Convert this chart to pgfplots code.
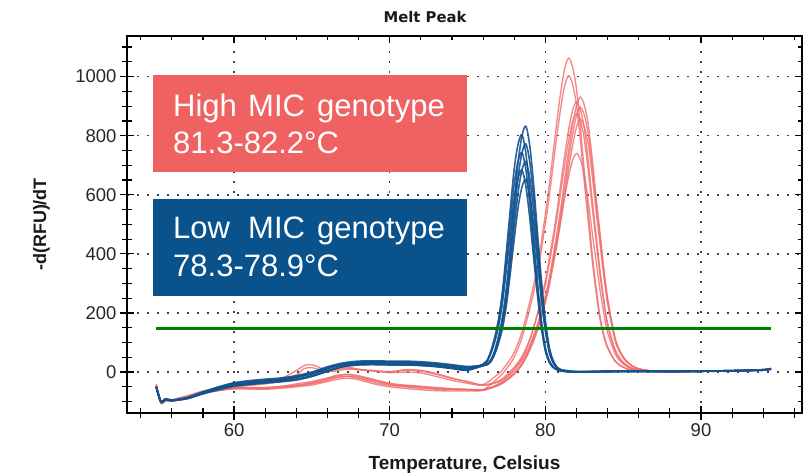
\documentclass[border=0pt]{standalone}
\usepackage{fontspec}
\setmainfont{Liberation Sans}
\newfontfamily\dejavu{DejaVu Sans}
\usepackage{pgfplots}
\usepackage{pgfplotstable}
\pgfplotsset{compat=1.18}

\definecolor{redbox}{RGB}{240,98,98}
\definecolor{bluebox}{RGB}{10,82,140}
\definecolor{redline}{RGB}{240,108,108}
\definecolor{blueline}{RGB}{18,82,142}
\definecolor{thresh}{RGB}{0,128,0}

% low MIC genotype curves
\pgfplotstableread{
x     b1   b2   b3   b4   b5   b6   b7
55    -48  -52  -50  -53  -50  -49  -51
55.3  -98  -101 -99  -102 -100 -99  -101
55.6  -90  -93  -91  -94  -92  -91  -93
56    -95  -97  -95  -97  -96  -95  -96
57    -87  -89  -86  -90  -88  -87  -89
58    -68  -72  -67  -74  -70  -69  -71
59    -52  -58  -50  -60  -55  -53  -57
60    -38  -45  -36  -48  -42  -39  -46
61    -32  -39  -29  -42  -36  -33  -40
62    -27  -34  -24  -37  -31  -28  -35
63    -23  -30  -20  -33  -26  -25  -31
64    -16  -24  -12  -27  -18  -17  -25
65    -4   -12  0    -15  -6   -5   -13
66    14   5    18   2    11   13   4
67    28   20   31   18   24   27   19
68    34   27   37   24   30   33   25
69    35   28   38   25   31   34   26
70    34   27   37   24   30   33   25
71    34   27   37   24   30   33   25
72    32   25   35   22   28   31   23
73    28   21   31   18   24   27   19
74    22   15   25   12   18   21   13
75    16   9    19   6    12   15   7
76    23   27   23   26   22   25   21
76.25 27   39   26   37   25   35   25
76.5  41   71   39   67   37   63   35
76.75 73   119  69   111  65   103  61
77    123  182  115  169  107  157  99
77.25 188  277  176  257  163  237  150
77.5  287  411  267  381  247  351  227
77.75 426  553  396  512  366  472  336
78    574  688  533  637  492  586  451
78.25 711  772  660  715  609  657  558
78.5  800  803  743  743  685  683  627
78.75 832  739  772  684  712  628  652
79    765  611  710  566  655  520  600
79.25 633  452  588  419  542  385  496
79.5  467  300  434  278  400  256  366
79.75 309  172  287  159  265  147  243
80    176  83   164  77   151  71   138
80.25 85   39   79   36   73   33   67
80.5  39   18   36   17   34   15   31
80.75 17   9    16   8    15   8    14
81    8    4    8    4    7    3    6
82    1    0    2    0    1    1    0
84    3    2    3    1    2    3    2
86    3    3    4    2    3    3    2
88    2    3    2    2    3    2    2
90    3    3    3    2    3    3    3
92    5    4    5    4    5    4    5
94    8    7    8    7    8    7    8
94.5  12   10   12   10   12   11   12
}\bluetab

% high MIC genotype curves
\pgfplotstableread{
x     r1   r2   r3   r4   r5   r6   r7   r8
55    -45  -50  -40  -48  -52  -42  -47  -50
55.3  -100 -105 -98  -103 -106 -102 -104 -103
55.6  -90  -95  -92  -96  -97  -94  -94  -95
56    -95  -98  -93  -97  -99  -96  -96  -97
57    -82  -85  -80  -86  -84  -84  -83  -85
58    -65  -70  -64  -72  -68  -66  -69  -70
59    -55  -62  -56  -63  -60  -57  -61  -62
60    -48  -55  -50  -57  -53  -50  -56  -54
61    -42  -55  -44  -56  -52  -45  -57  -53
62    -35  -55  -38  -56  -52  -40  -58  -54
63    -22  -50  -28  -52  -48  -32  -55  -50
64    5    -45  -10  -47  -40  -20  -50  -44
64.5  22   -42  12   -43  -36  -8   -47  -40
65    25   -38  15   -40  -32  0    -44  -35
65.5  15   -32  8    -34  -26  2    -38  -28
66    5    -25  3    -28  -20  3    -32  -22
66.5  3    -18  10   -20  -12  8    -26  -15
67    8    -15  16   -16  -8   12   -22  -10
67.5  10   -15  15   -16  -8   12   -22  -10
68    8    -20  10   -20  -12  8    -26  -15
69    5    -35  4    -30  -25  3    -40  -28
70    2    -45  -2   -40  -38  0    -50  -42
71    6    -50  0    -46  -44  8    -55  -48
72    3    -55  -3   -50  -48  6    -60  -52
73    -8   -58  -15  -55  -52  -5   -63  -56
74    -22  -60  -28  -58  -56  -20  -64  -58
75    -32  -60  -38  -60  -58  -33  -64  -59
76    -42  -60  -45  -61  -59  -44  -62  -60
77    -5   -18  -34  -40  -44  -30  -45  -43
77.5  25   11   -17  -18  -28  -10  -29  -25
78    67   51   7    10   -5   17   -7   -2
78.5  136  117  40   47   27   53   24   30
79    238  215  92   109  79   111  74   81
79.5  360  334  162  200  150  195  142  156
80    534  503  259  309  248  295  236  246
80.25 633  596  317  385  304  367  290  308
80.5  743  700  394  461  379  441  361  370
80.75 853  804  472  547  454  523  433  440
81    952  898  559  642  538  614  514  518
81.25 1029 971  655  736  630  704  602  594
81.5  1063 1003 750  821  722  785  690  664
81.75 1032 974  836  886  804  848  768  717
82    958  904  902  915  868  875  829  740
82.25 831  784  931  888  896  850  856  719
82.5  682  643  904  825  870  789  831  668
82.75 544  513  840  716  808  684  772  579
83    406  383  728  588  701  562  670  476
83.25 289  273  598  469  576  449  550  380
83.5  193  182  477  350  459  334  439  283
83.75 128  121  355  248  342  238  327  201
84    86   81   252  166  243  158  232  134
84.5  37   35   112  74   108  70   103  60
85    17   16   52   33   51   32   48   27
85.5  7    7    24   15   24   14   23   12
86    4    4    11   8    11   7    11   6
87    2    2    3    2    3    2    3    2
88    2    2    2    2    2    2    2    2
90    3    3    3    3    3    3    3    3
92    4    4    4    4    4    4    4    4
94    6    6    6    6    6    6    6    6
94.5  10   10   10   10   10   10   10   10
}\redtab

\begin{document}
\begin{tikzpicture}
\useasboundingbox (0,0) rectangle (805pt,473pt);
\begin{axis}[
  at={(127pt,60pt)}, anchor=south west,
  scale only axis, width=675pt, height=377pt,
  xmin=53.12, xmax=96.49, ymin=-138.5, ymax=1137.5,
  xtick={60,70,80,90}, ytick={0,200,...,1000},
  minor xtick={54,56,...,96}, minor ytick={-100,-50,...,1100},
  xtick pos=left, ytick pos=left,
  tick align=center, major tick length=14pt, minor tick length=10pt,
  tick style={black, line width=1.2pt},
  axis line style={black, line width=1.6pt},
  grid=major,
  major grid style={black!75, line width=1.5pt, dash pattern=on 1.5pt off 8.5pt},
  ticklabel style={font=\fontsize{18.5}{20}\selectfont, text=black!85},
  /pgf/number format/assume math mode=true,
  /pgf/number format/1000 sep={},
  clip=true,
]
\pgfplotsinvokeforeach{1,...,8}{
  \addplot[redline, line width=1.35pt, opacity=0.8, smooth, no markers] table[x=x, y=r#1] {\redtab};
}
\pgfplotsinvokeforeach{1,...,7}{
  \addplot[blueline, line width=1.6pt, opacity=0.9, smooth, no markers] table[x=x, y=b#1] {\bluetab};
}
\addplot[thresh, line width=3pt, no markers] coordinates {(55,148) (94.5,148)};
\end{axis}
% ticks on the top and right edges
\begin{axis}[
  at={(127pt,60pt)}, anchor=south west,
  scale only axis, width=675pt, height=377pt,
  xmin=53.12, xmax=96.49, ymin=-138.5, ymax=1137.5,
  xtick={60,70,80,90}, ytick={0,200,...,1000},
  minor xtick={54,56,...,96}, minor ytick={-100,-50,...,1100},
  xtick pos=right, ytick pos=right,
  xticklabels={}, yticklabels={},
  tick align=inside, major tick length=7pt, minor tick length=4.5pt,
  tick style={black, line width=1.2pt},
  axis line style={draw=none},
]
\end{axis}

\node[font=\dejavu\bfseries\fontsize{14.8}{16}\selectfont, text=black!90] at (425pt,456pt) {Melt Peak};
\node[font=\bfseries\fontsize{19}{21}\selectfont, anchor=base, text=black!90] at (464.5pt,3pt) {Temperature, Celsius};
\node[font=\bfseries\fontsize{18}{20}\selectfont, anchor=base, rotate=90, text=black!90] at (46pt,248.5pt) {-d(RFU)/dT};

\fill[redbox] (153pt,301pt) rectangle (467pt,398pt);
\fill[bluebox] (153pt,177pt) rectangle (467pt,274pt);
\begin{scope}[every node/.style={anchor=base west, inner sep=0pt, text=white, font=\fontsize{31}{33}\selectfont}]
\node at (173pt,356.3pt) {High};
\node at (248pt,356.3pt) {MIC};
\node at (317pt,356.3pt) {genotype};
\node at (173pt,319.7pt) {81.3-82.2°C};
\node at (173pt,234.7pt) {Low};
\node at (248pt,234.7pt) {MIC};
\node at (317pt,234.7pt) {genotype};
\node at (173pt,196.3pt) {78.3-78.9°C};
\end{scope}
\end{tikzpicture}
\end{document}
